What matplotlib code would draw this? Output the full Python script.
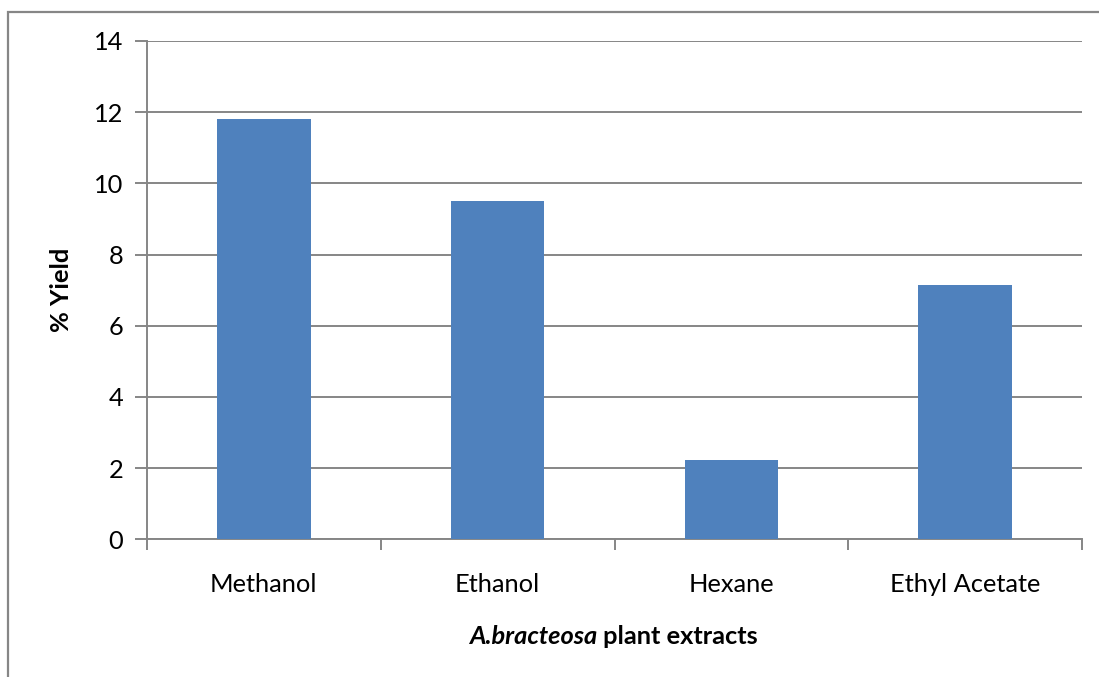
import matplotlib
matplotlib.use("Agg")
import matplotlib.pyplot as plt
from matplotlib.patches import Rectangle
from matplotlib.offsetbox import TextArea, HPacker, AnnotationBbox

# Rendement des extraits de A. bracteosa selon le solvant
solvants = ["Methanol", "Ethanol", "Hexane", "Ethyl Acetate"]
rendements = [11.8, 9.5, 2.23, 7.15]
graduations_y = [0, 2, 4, 6, 8, 10, 12, 14]

plt.rcParams["font.family"] = ["Lato", "DejaVu Sans"]

gris = "#868686"
bleu = "#4F81BD"
taille = 18.3

fig = plt.figure(figsize=(10.99, 6.77), dpi=100)
ax = fig.add_axes([147 / 1099, 1 - 539.3 / 677, (1082 - 147) / 1099, (539.3 - 41) / 677])

positions = list(range(len(solvants)))
ax.bar(positions, rendements, width=0.4, color=bleu, zorder=3)

ax.set_xlim(-0.5, len(solvants) - 0.5)
ax.set_ylim(0, 14)
ax.set_yticks(graduations_y)
ax.set_yticklabels([str(v) for v in graduations_y], fontsize=taille)
ax.yaxis.grid(True, color=gris, linewidth=1.4, zorder=0)

# graduations de l'axe x aux frontières des catégories, étiquettes au centre
ax.set_xticks([p - 0.5 for p in positions] + [len(solvants) - 0.5])
ax.set_xticklabels([])
ax.set_xticks(positions, minor=True)
ax.set_xticklabels(solvants, minor=True, fontsize=taille)
ax.tick_params(axis="x", which="minor", length=0, pad=24)
ax.tick_params(axis="x", which="major", length=8, width=1.4, color=gris)
ax.tick_params(axis="y", length=9, width=1.4, color=gris, pad=8)

for cote in ["top", "right"]:
    ax.spines[cote].set_visible(False)
for cote in ["left", "bottom"]:
    ax.spines[cote].set_color(gris)
    ax.spines[cote].set_linewidth(1.4)

ax.set_ylabel("% Yield", fontsize=taille, fontweight="bold", labelpad=15)

# titre de l'axe x : nom d'espèce en italique
morceaux = HPacker(children=[
    TextArea("A.bracteosa", textprops=dict(fontsize=taille, fontweight="bold", style="italic")),
    TextArea(" plant extracts", textprops=dict(fontsize=taille, fontweight="bold")),
], pad=0, sep=0, align="baseline")
titre_x = AnnotationBbox(morceaux, (613.5 / 1099, 1 - 637 / 677), xycoords="figure fraction",
                         frameon=False, box_alignment=(0.5, 0.5))
fig.add_artist(titre_x)

# cadre extérieur du graphique
fig.add_artist(Rectangle((8 / 1099, -0.1), 1.2, 1 - 12 / 677 + 0.1, transform=fig.transFigure,
                         fill=False, edgecolor=gris, linewidth=1.6))

plt.savefig("out.png", dpi=100)
